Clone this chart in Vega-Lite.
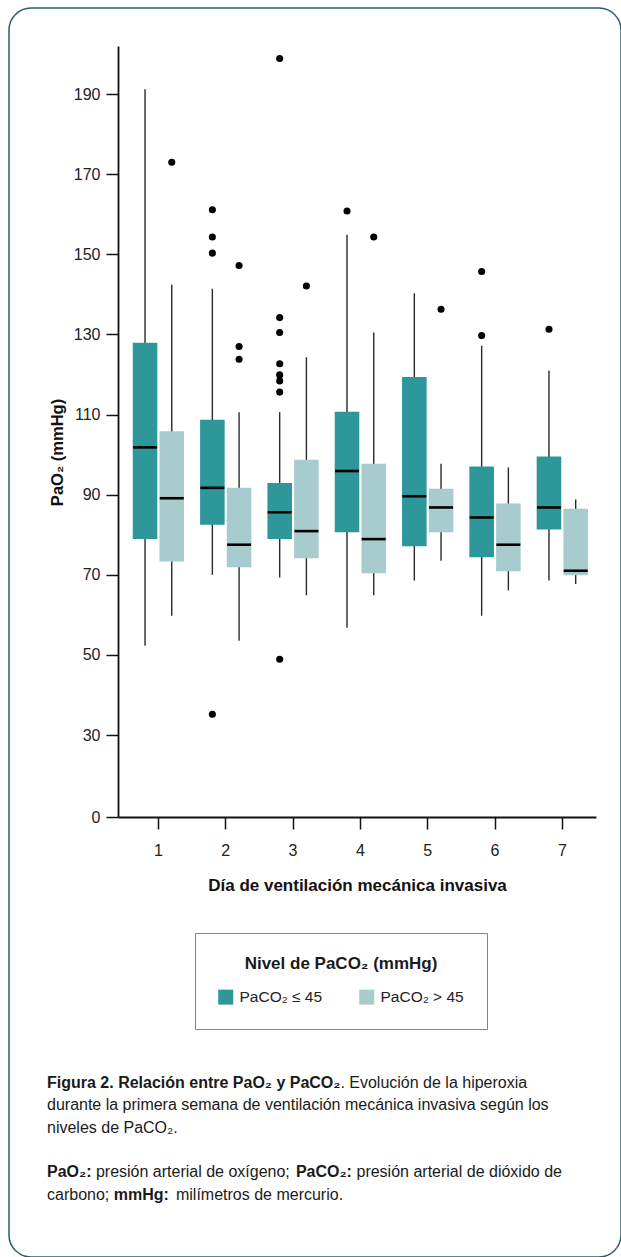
{
  "$schema": "https://vega.github.io/schema/vega-lite/v6.json",
  "autosize": {"type": "none"},
  "padding": {"left": 9, "top": 8, "right": 0, "bottom": 0},
  "width": 612,
  "height": 1249,
  "background": "white",
  "datasets": {
    "boxes": [
      {"dia": 1, "grupo": "PaCO₂ ≤ 45", "lo": 52.3, "q1": 78.9, "med": 101.8, "q3": 127.9, "hi": 191.2},
      {"dia": 1, "grupo": "PaCO₂ > 45", "lo": 59.8, "q1": 73.3, "med": 89.1, "q3": 105.8, "hi": 142.4},
      {"dia": 2, "grupo": "PaCO₂ ≤ 45", "lo": 70.0, "q1": 82.5, "med": 91.7, "q3": 108.7, "hi": 141.4},
      {"dia": 2, "grupo": "PaCO₂ > 45", "lo": 53.5, "q1": 71.9, "med": 77.5, "q3": 91.7, "hi": 110.6},
      {"dia": 3, "grupo": "PaCO₂ ≤ 45", "lo": 69.3, "q1": 78.9, "med": 85.6, "q3": 92.9, "hi": 110.6},
      {"dia": 3, "grupo": "PaCO₂ > 45", "lo": 64.9, "q1": 74.1, "med": 80.9, "q3": 98.7, "hi": 124.3},
      {"dia": 4, "grupo": "PaCO₂ ≤ 45", "lo": 56.8, "q1": 80.6, "med": 95.9, "q3": 110.7, "hi": 154.9},
      {"dia": 4, "grupo": "PaCO₂ > 45", "lo": 64.9, "q1": 70.4, "med": 78.9, "q3": 97.7, "hi": 130.5},
      {"dia": 5, "grupo": "PaCO₂ ≤ 45", "lo": 68.6, "q1": 77.1, "med": 89.6, "q3": 119.4, "hi": 140.3},
      {"dia": 5, "grupo": "PaCO₂ > 45", "lo": 73.5, "q1": 80.6, "med": 86.8, "q3": 91.5, "hi": 97.7},
      {"dia": 6, "grupo": "PaCO₂ ≤ 45", "lo": 59.8, "q1": 74.4, "med": 84.3, "q3": 97.0, "hi": 127.2},
      {"dia": 6, "grupo": "PaCO₂ > 45", "lo": 66.1, "q1": 70.9, "med": 77.5, "q3": 87.8, "hi": 96.8},
      {"dia": 7, "grupo": "PaCO₂ ≤ 45", "lo": 68.6, "q1": 81.3, "med": 86.8, "q3": 99.5, "hi": 121.0},
      {"dia": 7, "grupo": "PaCO₂ > 45", "lo": 67.7, "q1": 69.9, "med": 71.0, "q3": 86.5, "hi": 88.8}
    ],
    "atipicos": [
      {"dia": 1, "grupo": "PaCO₂ > 45", "pao2": 173.0},
      {"dia": 2, "grupo": "PaCO₂ ≤ 45", "pao2": 161.1},
      {"dia": 2, "grupo": "PaCO₂ ≤ 45", "pao2": 154.3},
      {"dia": 2, "grupo": "PaCO₂ ≤ 45", "pao2": 150.3},
      {"dia": 2, "grupo": "PaCO₂ ≤ 45", "pao2": 35.2},
      {"dia": 2, "grupo": "PaCO₂ > 45", "pao2": 147.2},
      {"dia": 2, "grupo": "PaCO₂ > 45", "pao2": 127.0},
      {"dia": 2, "grupo": "PaCO₂ > 45", "pao2": 123.8},
      {"dia": 3, "grupo": "PaCO₂ ≤ 45", "pao2": 198.9},
      {"dia": 3, "grupo": "PaCO₂ ≤ 45", "pao2": 134.2},
      {"dia": 3, "grupo": "PaCO₂ ≤ 45", "pao2": 130.5},
      {"dia": 3, "grupo": "PaCO₂ ≤ 45", "pao2": 122.7},
      {"dia": 3, "grupo": "PaCO₂ ≤ 45", "pao2": 119.9},
      {"dia": 3, "grupo": "PaCO₂ ≤ 45", "pao2": 118.4},
      {"dia": 3, "grupo": "PaCO₂ ≤ 45", "pao2": 115.6},
      {"dia": 3, "grupo": "PaCO₂ ≤ 45", "pao2": 48.9},
      {"dia": 3, "grupo": "PaCO₂ > 45", "pao2": 142.1},
      {"dia": 4, "grupo": "PaCO₂ ≤ 45", "pao2": 160.8},
      {"dia": 4, "grupo": "PaCO₂ > 45", "pao2": 154.3},
      {"dia": 5, "grupo": "PaCO₂ > 45", "pao2": 136.3},
      {"dia": 6, "grupo": "PaCO₂ ≤ 45", "pao2": 145.7},
      {"dia": 6, "grupo": "PaCO₂ ≤ 45", "pao2": 129.7},
      {"dia": 7, "grupo": "PaCO₂ ≤ 45", "pao2": 131.3}
    ]
  },
  "title": {
    "text": [
      "Figura 2. Relación entre PaO₂ y PaCO₂",
      "\u200b\u00a0",
      "\u200b\u00a0",
      "\u200b\u00a0",
      "PaO₂:\u00a0\u00a0\u00a0\u00a0\u00a0\u00a0\u00a0\u00a0\u00a0\u00a0\u00a0\u00a0\u00a0\u00a0\u00a0\u00a0\u00a0\u00a0\u00a0\u00a0\u00a0\u00a0\u00a0\u00a0\u00a0\u00a0\u00a0\u00a0\u00a0\u00a0\u00a0\u00a0\u00a0\u00a0\u00a0\u00a0\u00a0\u00a0\u00a0\u00a0\u00a0\u00a0\u00a0\u00a0\u00a0\u00a0PaCO₂:",
      "\u200b\u00a0\u00a0\u00a0\u00a0\u00a0\u00a0\u00a0\u00a0\u00a0\u00a0\u00a0\u00a0\u00a0\u00a0\u00a0mmHg:"
    ],
    "subtitle": [
      "\u200b\u00a0\u00a0\u00a0\u00a0\u00a0\u00a0\u00a0\u00a0\u00a0\u00a0\u00a0\u00a0\u00a0\u00a0\u00a0\u00a0\u00a0\u00a0\u00a0\u00a0\u00a0\u00a0\u00a0\u00a0\u00a0\u00a0\u00a0\u00a0\u00a0\u00a0\u00a0\u00a0\u00a0\u00a0\u00a0\u00a0\u00a0\u00a0\u00a0\u00a0\u00a0\u00a0\u00a0\u00a0\u00a0\u00a0\u00a0\u00a0\u00a0\u00a0\u00a0\u00a0\u00a0\u00a0\u00a0\u00a0\u00a0\u00a0\u00a0\u00a0\u00a0\u00a0\u00a0\u00a0\u00a0\u00a0. Evolución de la hiperoxia",
      "durante la primera semana de ventilación mecánica invasiva según los",
      "niveles de PaCO₂.",
      "\u200b\u00a0",
      "\u200b\u00a0\u00a0\u00a0\u00a0\u00a0\u00a0\u00a0\u00a0\u00a0\u00a0\u00a0presión arterial de oxígeno;\u00a0\u00a0\u00a0\u00a0\u00a0\u00a0\u00a0\u00a0\u00a0\u00a0\u00a0\u00a0\u00a0\u00a0\u00a0presión arterial de dióxido de",
      "carbono;\u00a0\u00a0\u00a0\u00a0\u00a0\u00a0\u00a0\u00a0\u00a0\u00a0\u00a0\u00a0\u00a0\u00a0\u00a0milímetros de mercurio."
    ],
    "orient": "bottom",
    "anchor": "start",
    "frame": "group",
    "offset": -182,
    "dx": 38,
    "font": "Liberation Sans",
    "fontSize": 16,
    "fontWeight": "bold",
    "lineHeight": 22.3,
    "color": "#1a1a1a",
    "limit": 600,
    "subtitleFont": "Liberation Sans",
    "subtitleFontSize": 16,
    "subtitleFontWeight": "normal",
    "subtitleLineHeight": 22.3,
    "subtitleColor": "#1a1a1a",
    "subtitlePadding": -127.5
  },
  "layer": [
    {
      "data": {"name": "boxes"},
      "mark": {"type": "rule", "color": "#2a2a2a", "strokeWidth": 1.4},
      "encoding": {
        "x": {
          "field": "dia",
          "type": "ordinal",
          "scale": {"domain": [1, 2, 3, 4, 5, 6, 7], "range": [109, 587], "paddingInner": 0, "paddingOuter": 0.05, "align": 1},
          "axis": {"title": "Día de ventilación mecánica invasiva"}
        },
        "xOffset": {"field": "grupo", "type": "nominal", "scale": {"domain": ["PaCO₂ ≤ 45", "PaCO₂ > 45"], "paddingInner": 0.08, "paddingOuter": 0.3}},
        "y": {
          "field": "lo",
          "type": "quantitative",
          "scale": {"type": "linear", "domain": [0, 30, 202], "range": [809, 727, 38], "nice": false, "zero": false},
          "axis": {"title": "PaO₂ (mmHg)", "values": [0, 30, 50, 70, 90, 110, 130, 150, 170, 190], "titleY": 444}
        },
        "y2": {"field": "hi"}
      }
    },
    {
      "data": {"name": "boxes"},
      "mark": {"type": "bar"},
      "encoding": {
        "x": {"field": "dia", "type": "ordinal"},
        "xOffset": {"field": "grupo", "type": "nominal"},
        "y": {"field": "q1", "type": "quantitative"},
        "y2": {"field": "q3"},
        "color": {
          "field": "grupo",
          "type": "nominal",
          "scale": {"domain": ["PaCO₂ ≤ 45", "PaCO₂ > 45"], "range": ["#2e9799", "#a8cbce"]},
          "legend": {
            "title": "Nivel de PaCO₂ (mmHg)",
            "orient": "none",
            "legendX": 186,
            "legendY": 925,
            "direction": "horizontal",
            "columns": 2,
            "strokeColor": "#3ba3a7",
            "padding": 23,
            "titleAnchor": "middle",
            "titleFontSize": 17,
            "titleFontWeight": "bold",
            "titleColor": "#1a1a1a",
            "titlePadding": 16,
            "titleLimit": 400,
            "labelFontSize": 15.5,
            "labelColor": "#222222",
            "labelOffset": 6,
            "labelLimit": 200,
            "symbolType": "square",
            "symbolSize": 225,
            "symbolStrokeWidth": 0,
            "symbolOpacity": 1,
            "columnPadding": 36
          }
        }
      }
    },
    {
      "data": {"name": "boxes"},
      "mark": {"type": "tick", "color": "#000000", "thickness": 2.6, "size": 24, "opacity": 1},
      "encoding": {
        "x": {"field": "dia", "type": "ordinal"},
        "xOffset": {"field": "grupo", "type": "nominal"},
        "y": {"field": "med", "type": "quantitative"}
      }
    },
    {
      "data": {"name": "atipicos"},
      "mark": {"type": "point", "filled": true, "color": "#000000", "size": 50, "opacity": 1},
      "encoding": {
        "x": {"field": "dia", "type": "ordinal"},
        "xOffset": {"field": "grupo", "type": "nominal"},
        "y": {"field": "pao2", "type": "quantitative"}
      }
    }
  ],
  "encoding": {},
  "config": {
    "font": "Liberation Sans",
    "view": {"stroke": "#285f6b", "strokeWidth": 1.5, "cornerRadius": 22},
    "axisY": {
      "offset": -109,
      "grid": false,
      "tickSize": 12,
      "tickWidth": 1.5,
      "tickColor": "#111111",
      "domainWidth": 1.8,
      "domainColor": "#111111",
      "labelFontSize": 16,
      "labelPadding": 6,
      "labelColor": "#222222",
      "titleFontSize": 16.5,
      "titleFontWeight": "bold",
      "titleColor": "#111111",
      "titlePadding": 8
    },
    "axisX": {
      "offset": -440,
      "labelAngle": 0,
      "grid": false,
      "tickSize": 12,
      "tickWidth": 1.5,
      "tickColor": "#111111",
      "domainWidth": 1.8,
      "domainColor": "#111111",
      "labelFontSize": 16,
      "labelPadding": 13,
      "labelColor": "#222222",
      "titleFontSize": 17,
      "titleFontWeight": "bold",
      "titleColor": "#111111",
      "titlePadding": 19
    }
  }
}
